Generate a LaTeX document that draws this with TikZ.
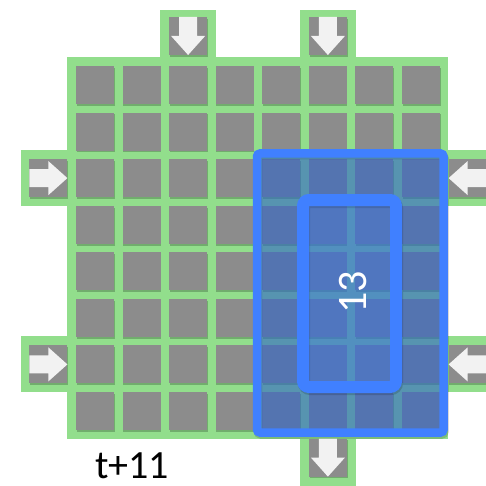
\documentclass[tikz,border=0pt]{standalone}
\usepackage{fontspec}
\setmainfont{Carlito}
\usetikzlibrary{shadows}
\definecolor{boardgreen}{RGB}{146,222,140}
\definecolor{cellgray}{RGB}{140,140,140}
\definecolor{arrowwhite}{RGB}{242,242,242}
\definecolor{hiblue}{RGB}{64,128,255}
\definecolor{hifill}{RGB}{48,100,200}
\begin{document}
\begin{tikzpicture}[x=1pt,y=-1pt,
  board/.style={fill=boardgreen, draw=none, inner sep=0pt, outer sep=0pt},
  cell/.style={fill=cellgray, minimum size=38pt, inner sep=0pt, outer sep=0pt,
    drop shadow={shadow xshift=0.6pt, shadow yshift=-1.8pt, opacity=0.22, fill=black}},
  dnarrow/.pic={\fill[arrowwhite] (-9,-19) -- (9,-19) -- (9,0) -- (17,0) -- (0,19) -- (-17,0) -- (-9,0) -- cycle;},
  winbox/.style={draw=hiblue, line width=8.5pt, fill=hifill, fill opacity=0.6, rounded corners=3pt, inner sep=0pt},
  innerbox/.style={draw=hiblue, line width=12pt, fill=hiblue, fill opacity=0.2, rounded corners=6pt, inner sep=0pt}
]
\useasboundingbox (0,0) rectangle (486,486);
\clip (0,0) rectangle (486,486);
% green board and tabs
\node[board, minimum width=381pt, minimum height=381.5pt] (board) at (257.5,247.75) {};
\node[board, minimum width=56pt, minimum height=56pt] (tabT1) at (188.1,38) {};
\node[board, minimum width=56pt, minimum height=56pt] (tabT2) at (327.9,38) {};
\node[board, minimum width=56pt, minimum height=56pt] (tabL1) at (49,178.1) {};
\node[board, minimum width=56pt, minimum height=56pt] (tabL2) at (49,364.4) {};
\node[board, minimum width=56pt, minimum height=56pt] (tabR1) at (468,178.1) {};
\node[board, minimum width=56pt, minimum height=56pt] (tabR2) at (468,364.4) {};
\node[board, minimum width=56pt, minimum height=56pt] (tabB1) at (327.9,458) {};
% grid cells
\foreach \r in {1,...,8}
  \foreach \c in {1,...,8}
    \node[cell] (c\r-\c) at ({95+(\c-1)*46.57},{85+(\r-1)*46.57}) {};
% arrow cells
\node[cell] (aT1) at (188.1,36) {};
\node[cell] (aT2) at (327.9,36) {};
\node[cell] (aL1) at (48.4,178.1) {};
\node[cell] (aL2) at (48.4,364.4) {};
\node[cell] (aR1) at (467.6,178.1) {};
\node[cell] (aR2) at (467.6,364.4) {};
\node[cell] (aB1) at (327.9,457.6) {};
\pic at (aT1) {dnarrow};
\pic at (aT2) {dnarrow};
\pic at (aB1) {dnarrow};
\pic[rotate=90] at (aL1) {dnarrow};
\pic[rotate=90] at (aL2) {dnarrow};
\pic[rotate=-90] at (aR1) {dnarrow};
\pic[rotate=-90] at (aR2) {dnarrow};
% highlight windows
\draw[black, opacity=0.15, line width=8.5pt, rounded corners=3pt] (258,155.5) rectangle (444.5,434.5);
\node[winbox, minimum width=186.5pt, minimum height=279pt] (win) at (350.25,293) {};
\draw[black, opacity=0.15, line width=12pt, rounded corners=6pt] (304,202) rectangle (397,389);
\node[innerbox, minimum width=93pt, minimum height=187pt] (inner) at (349.5,293.5) {};
\node[text=white, rotate=90, inner sep=0pt, font=\fontsize{42}{42}\selectfont] (num) at (353,292.5) {13};
\node[text=black, inner sep=0pt, font=\fontsize{40}{40}\selectfont] (lbl) at (132,466) {t+11};
\end{tikzpicture}
\end{document}
